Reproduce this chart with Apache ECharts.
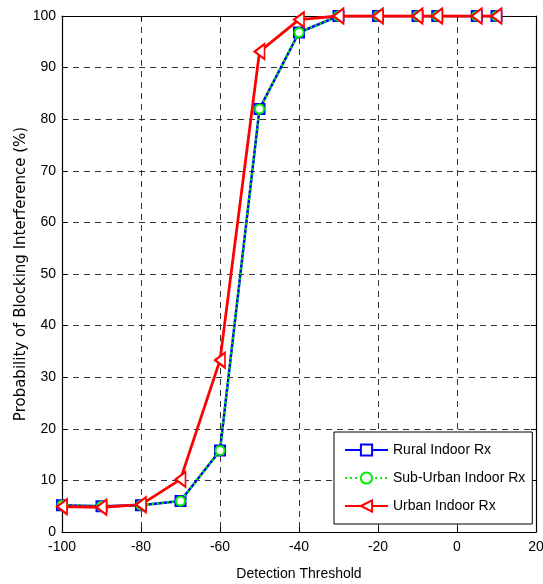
<!DOCTYPE html>
<html><head><meta charset="utf-8">
<script src="https://cdn.jsdelivr.net/npm/echarts@6/dist/echarts.min.js"></script>
<style>html,body{margin:0;padding:0;background:#fff}#c{width:543px;height:584px}</style>
</head><body><div id="c"></div>
<script>
const thresholds = [-100, -90, -80, -70, -60, -50, -40, -30, -20, -10, -5, 5, 10];
const rural = [5.2, 5.0, 5.2, 6.0, 15.8, 82, 96.8, 100, 100, 100, 100, 100, 100];
const subUrban = [5.2, 5.0, 5.2, 6.0, 15.8, 82, 96.8, 100, 100, 100, 100, 100, 100];
const urban = [4.9, 4.8, 5.3, 10.2, 33.3, 93.1, 99.3, 100, 100, 100, 100, 100, 100];
const seriesNames = ['Rural Indoor Rx', 'Sub-Urban Indoor Rx', 'Urban Indoor Rx'];
const xLabel = 'Detection Threshold';
const yLabel = 'Probability of Blocking Interference (%)';

const FONT = "'Liberation Sans Narrow', 'Liberation Sans', Arial, sans-serif";
const pair = (ys) => thresholds.map((x, i) => [x, ys[i]]);
const gridLine = { show: true, lineStyle: { color: '#333', type: [6, 5], width: 1 } };

const chart = echarts.init(document.getElementById('c'), null, { renderer: 'canvas' });
chart.setOption({
  animation: false,
  backgroundColor: '#fff',
  grid: { left: 62, right: 7, top: 16, bottom: 52, containLabel: false, outerBoundsMode: 'none' },
  xAxis: [{
    type: 'value', min: -100, max: 20, interval: 20,
    name: xLabel, nameLocation: 'middle', nameGap: 35,
    nameTextStyle: { fontFamily: FONT, fontSize: 14, color: '#000' },
    axisLine: { show: true, onZero: false, lineStyle: { color: '#000', width: 1.2 } },
    axisTick: { show: true, inside: true, length: 5, lineStyle: { color: '#000' } },
    axisLabel: { fontFamily: FONT, fontSize: 14, color: '#000', margin: 8 },
    splitLine: gridLine
  }, {
    type: 'value', min: -100, max: 20, interval: 20, position: 'top',
    axisLine: { show: true, onZero: false, lineStyle: { color: '#000', width: 1.2 } },
    axisTick: { show: true, inside: true, length: 5, lineStyle: { color: '#000' } },
    axisLabel: { show: false }, splitLine: { show: false }
  }],
  yAxis: [{
    type: 'value', min: 0, max: 100, interval: 10,
    name: yLabel, nameLocation: 'middle', nameGap: 33, nameMoveOverlap: false,
    nameTextStyle: { fontFamily: "'DejaVu Sans', sans-serif", fontSize: 15, color: '#000' },
    axisLine: { show: true, onZero: false, lineStyle: { color: '#000', width: 1.2 } },
    axisTick: { show: true, inside: true, length: 5, lineStyle: { color: '#000' } },
    axisLabel: { fontFamily: FONT, fontSize: 14, color: '#000', margin: 6 },
    splitLine: gridLine
  }, {
    type: 'value', min: 0, max: 100, interval: 10, position: 'right',
    axisLine: { show: true, onZero: false, lineStyle: { color: '#000', width: 1.2 } },
    axisTick: { show: true, inside: true, length: 5, lineStyle: { color: '#000' } },
    axisLabel: { show: false }, splitLine: { show: false }
  }],
  legend: {
    orient: 'vertical', left: 334, top: 432,
    padding: [11, 7, 11, 10], itemGap: 14, itemWidth: 43, itemHeight: 14,
    backgroundColor: '#fff', borderColor: '#000', borderWidth: 1, borderRadius: 0,
    textStyle: { fontFamily: FONT, fontSize: 14, color: '#000' },
    data: seriesNames
  },
  series: [{
    name: seriesNames[0], type: 'line', data: pair(rural),
    lineStyle: { color: '#0000ff', width: 2.5 },
    symbol: 'emptyRect', symbolSize: 10,
    itemStyle: { color: '#0000ff', borderColor: '#0000ff', borderWidth: 2 },
    z: 2
  }, {
    name: seriesNames[1], type: 'line', data: pair(subUrban),
    lineStyle: { color: '#00ee00', width: 2.5, type: [2, 3] },
    symbol: 'emptyCircle', symbolSize: 9,
    itemStyle: { color: '#00ee00', borderColor: '#00ee00', borderWidth: 2 },
    z: 3
  }, {
    name: seriesNames[2], type: 'line', data: pair(urban),
    lineStyle: { color: '#ff0000', width: 2.8 },
    symbol: 'emptyTriangle', symbolSize: [15, 10], symbolRotate: 90,
    itemStyle: { color: '#ff0000', borderColor: '#ff0000', borderWidth: 2 },
    z: 4
  }]
});
</script></body></html>
